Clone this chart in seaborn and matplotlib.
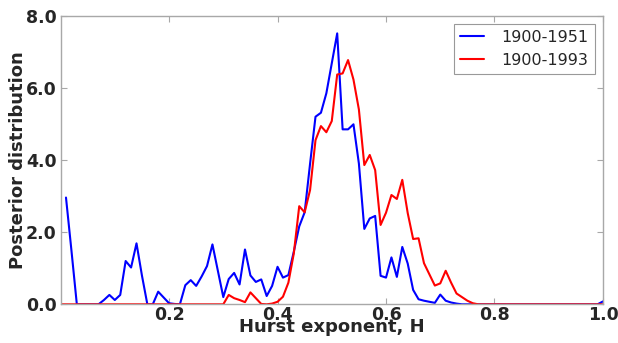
import numpy as np
import pandas as pd
import matplotlib
matplotlib.use("Agg")
import matplotlib.pyplot as plt
import seaborn as sns
from matplotlib.ticker import FormatStrFormatter

# Hurst exponent grid (0.00 .. 1.00, step 0.01)
H = [round(i * 0.01, 2) for i in range(101)]

# Posterior, 1900-1951 (no value at H=0)
post_1951 = [
    np.nan, 2.96, 1.50, 0.0, 0.0, 0.0, 0.0, 0.0, 0.12, 0.26,
    0.12, 0.26, 1.20, 1.02, 1.69, 0.80, 0.0, 0.0, 0.35, 0.19,
    0.03, 0.01, 0.0, 0.53, 0.67, 0.51, 0.77, 1.06, 1.66, 0.93,
    0.20, 0.70, 0.87, 0.55, 1.52, 0.80, 0.62, 0.69, 0.23, 0.51,
    1.04, 0.74, 0.81, 1.46, 2.16, 2.55, 3.90, 5.20, 5.31, 5.85,
    6.68, 7.51, 4.85, 4.85, 4.99, 3.90, 2.09, 2.38, 2.45, 0.79,
    0.74, 1.30, 0.76, 1.59, 1.13, 0.40, 0.14, 0.10, 0.07, 0.04,
    0.27, 0.10, 0.05, 0.02, 0.0, 0.0, 0.0, 0.0, 0.0, 0.0,
    0.0, 0.0, 0.0, 0.0, 0.0, 0.0, 0.0, 0.0, 0.0, 0.0,
    0.0, 0.0, 0.0, 0.0, 0.0, 0.0, 0.0, 0.0, 0.0, 0.0,
    0.08,
]

# Posterior, 1900-1993
post_1993 = [
    0.0, 0.0, 0.0, 0.0, 0.0, 0.0, 0.0, 0.0, 0.0, 0.0,
    0.0, 0.0, 0.0, 0.0, 0.0, 0.0, 0.0, 0.0, 0.0, 0.0,
    0.0, 0.0, 0.0, 0.0, 0.0, 0.0, 0.0, 0.0, 0.0, 0.0,
    0.0, 0.26, 0.17, 0.12, 0.06, 0.33, 0.17, 0.01, 0.0, 0.02,
    0.07, 0.21, 0.60, 1.41, 2.72, 2.55, 3.17, 4.55, 4.94, 4.77,
    5.08, 6.37, 6.40, 6.77, 6.23, 5.40, 3.86, 4.14, 3.72, 2.20,
    2.54, 3.03, 2.92, 3.45, 2.53, 1.81, 1.83, 1.14, 0.83, 0.52,
    0.58, 0.93, 0.60, 0.30, 0.20, 0.10, 0.03, 0.0, 0.0, 0.0,
    0.0, 0.0, 0.0, 0.0, 0.0, 0.0, 0.0, 0.0, 0.0, 0.0,
    0.0, 0.0, 0.0, 0.0, 0.0, 0.0, 0.0, 0.0, 0.0, 0.0,
    0.0,
]

series_names = ["1900-1951", "1900-1993"]
x_ticks = [0.2, 0.4, 0.6, 0.8, 1.0]
y_ticks = [0.0, 2.0, 4.0, 6.0, 8.0]

df = pd.concat([
    pd.DataFrame({"H": H, "p": post_1951, "period": series_names[0]}),
    pd.DataFrame({"H": H, "p": post_1993, "period": series_names[1]}),
]).dropna()

sns.set_style("white")
plt.rcParams["font.family"] = ["DejaVu Sans"]

fig = plt.figure(figsize=(6.18, 3.43), dpi=100)
ax = fig.add_axes([0.098, 0.1128, 0.8777, 0.8414])

sns.lineplot(data=df, x="H", y="p", hue="period", hue_order=series_names,
             palette=["#0000ff", "#ff0000"], estimator=None, sort=False,
             linewidth=1.5, ax=ax)

ax.set_xlim(0, 1.0)
ax.set_ylim(0, 8.0)
ax.set_xticks(x_ticks)
ax.set_yticks(y_ticks)
ax.xaxis.set_major_formatter(FormatStrFormatter("%.1f"))
ax.yaxis.set_major_formatter(FormatStrFormatter("%.1f"))
for lab in ax.get_xticklabels() + ax.get_yticklabels():
    lab.set_fontweight("bold")
    lab.set_fontsize(12.5)

ax.tick_params(direction="in", length=4, color="#a8a8a8", top=True, right=True,
               bottom=True, left=True)
ax.tick_params(axis="x", pad=1)
ax.tick_params(axis="y", pad=3)
for s in ax.spines.values():
    s.set_color("#a8a8a8")
    s.set_linewidth(1.0)

ax.set_xlabel("Hurst exponent, H", fontsize=13, fontweight="bold", labelpad=-4)
ax.set_ylabel("Posterior distribution", fontsize=13, fontweight="bold", labelpad=-1)

leg = ax.legend(loc="upper right", fontsize=11.5, frameon=True, fancybox=False,
                borderpad=0.4, handlelength=1.5, handletextpad=1.1)
leg.get_frame().set_edgecolor("#808080")
leg.get_frame().set_linewidth(0.8)

fig.savefig("out.png", dpi=100)
